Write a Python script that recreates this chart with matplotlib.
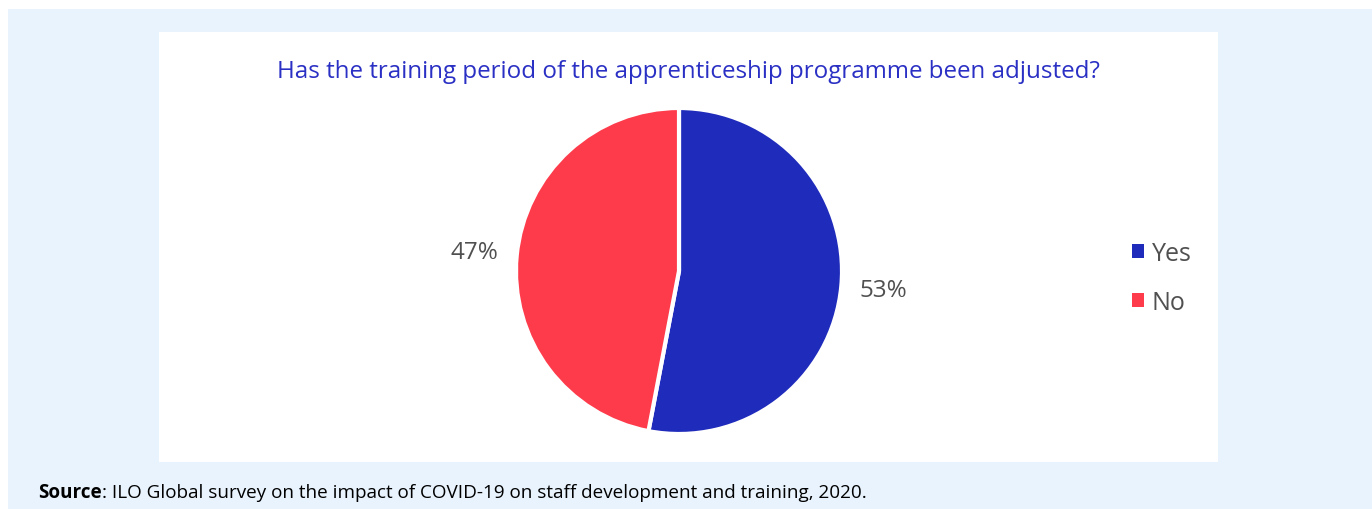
import matplotlib.pyplot as plt
from matplotlib.patches import Rectangle, Patch

plt.rcParams["font.family"] = ["Open Sans", "DejaVu Sans"]

answers = ["Yes", "No"]
shares = [53, 47]
colors = ["#1f2bbb", "#fe3b4b"]
title = "Has the training period of the apprenticeship programme been adjusted?"
source = "ILO Global survey on the impact of COVID-19 on staff development and training, 2020."

W, H = 1372, 510
fig = plt.figure(figsize=(W / 100, H / 100), dpi=100, facecolor="white")

# background panels (pixel boxes converted to figure fractions)
fig.patches.append(Rectangle((8 / W, 0), (W - 8) / W, (H - 10) / H,
                             transform=fig.transFigure, facecolor="#e8f3fd",
                             edgecolor="none", zorder=-3))
fig.patches.append(Rectangle((159 / W, (H - 463) / H), (1218 - 159) / W, (463 - 33) / H,
                             transform=fig.transFigure, facecolor="white",
                             edgecolor="none", zorder=-2))

# pie
cx, cy, r = 679, 272, 163
ax = fig.add_axes([(cx - r) / W, (H - cy - r) / H, 2 * r / W, 2 * r / H])
ax.patch.set_visible(False)
wedges, texts = ax.pie(shares, colors=colors, startangle=90, counterclock=False,
                       labels=[f"{s}%" for s in shares], labeldistance=1.26,
                       wedgeprops=dict(edgecolor="white", linewidth=3),
                       textprops=dict(fontsize=17.5, color="#505050"))
ax.set_xlim(-1, 1)
ax.set_ylim(-1, 1)
ax.set_aspect("equal")
ax.axis("off")
for t in texts:
    t.set_clip_on(False)
    t.set_ha("center")

fig.text(688 / W, 1 - 72 / H, title, ha="center", va="center",
         fontsize=17.4, color="#2b30c4")

handles = [Patch(facecolor=c, edgecolor="none", label=a) for a, c in zip(answers, colors)]
fig.legend(handles=handles, loc="center left", bbox_to_anchor=(1109 / W, 1 - 279 / H),
           frameon=False, fontsize=18, handlelength=0.5, handleheight=0.5,
           handletextpad=0.3, labelspacing=0.95, labelcolor="#505050")

# source line: bold "Source" followed by regular text
src_bold = fig.text(38 / W, 1 - 493 / H, "Source", ha="left", va="center",
                    fontsize=13.6, fontweight="bold", color="black")
fig.canvas.draw()
bb = src_bold.get_window_extent()
fig.text(bb.x1 / W, 1 - 493 / H, ": " + source, ha="left", va="center",
         fontsize=13.6, color="black")

fig.savefig("out.png", dpi=100, facecolor="white")
